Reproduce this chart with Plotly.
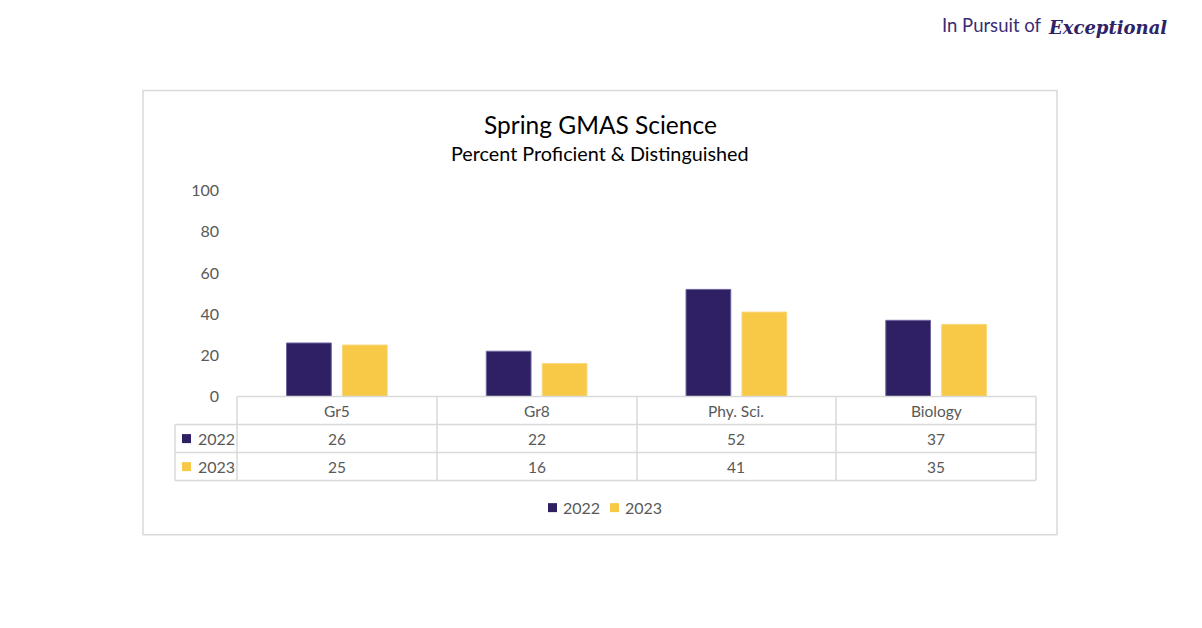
import plotly.graph_objects as go

categories = ["Gr5", "Gr8", "Phy. Sci.", "Biology"]
series_names = ["2022", "2023"]
values_2022 = [26, 22, 52, 37]
values_2023 = [25, 16, 41, 35]
y_ticks = [0, 20, 40, 60, 80, 100]

NAVY = "#2E2063"
GOLD = "#F8C946"
GRID = "#D9D9D9"
TXT = "#595959"
FONT = "Lato, 'Noto Sans', sans-serif"

# figure sized to fit inside the page's default 8px body margin
OFF = 8
W, H = 1202 - 2 * OFF, 628 - 2 * OFF
# observed vertical placement of the rendered figure in the photo
V_OFF, V_SCALE = 17.6, 0.9685
def px(x):
    return (x - OFF) / W
def py(y):
    return 1 - ((y - V_OFF) / V_SCALE) / H

fig = go.Figure()
fig.add_trace(go.Bar(x=categories, y=values_2022, name=series_names[0], showlegend=False,
                     marker=dict(color=NAVY, line=dict(color="#6E64A0", width=1))))
fig.add_trace(go.Bar(x=categories, y=values_2023, name=series_names[1], showlegend=False,
                     marker=dict(color=GOLD, line=dict(color="#F9D77A", width=1))))

shapes = []
# chart border
shapes.append(dict(type="rect", xref="paper", yref="paper", x0=px(143), x1=px(1057), y0=py(90), y1=py(534),
                   line=dict(color=GRID, width=1.5)))
# table lines
for yy in [396, 424, 452, 480]:
    x0 = 237 if yy == 396 else 175
    shapes.append(dict(type="line", xref="paper", yref="paper", x0=px(x0), x1=px(1036), y0=py(yy), y1=py(yy),
                       line=dict(color=GRID, width=1.5)))
for xx in [237, 437, 637, 836, 1036]:
    shapes.append(dict(type="line", xref="paper", yref="paper", x0=px(xx), x1=px(xx), y0=py(396), y1=py(480),
                       line=dict(color=GRID, width=1.5)))
shapes.append(dict(type="line", xref="paper", yref="paper", x0=px(175), x1=px(175), y0=py(424), y1=py(480),
                   line=dict(color=GRID, width=1.5)))
# legend keys (table + bottom legend)
for xc, yc, col in [(186.5, 438, NAVY), (186.5, 466, GOLD), (552.5, 507, NAVY), (614.5, 507, GOLD)]:
    shapes.append(dict(type="rect", xref="paper", yref="paper", x0=px(xc - 4.5), x1=px(xc + 4.5),
                       y0=py(yc - 4.5), y1=py(yc + 4.5), line=dict(width=0), fillcolor=col))

ann = []
ann.append(dict(text="Spring GMAS Science", xref="paper", yref="paper", x=px(600), y=py(124),
                showarrow=False, font=dict(family=FONT, size=24.5, color="#000000"), xanchor="center", yanchor="middle"))
ann.append(dict(text="Percent Proficient &amp; Distinguished", xref="paper", yref="paper", x=px(600), y=py(153),
                showarrow=False, font=dict(family=FONT, size=19.8, color="#000000"), xanchor="center", yanchor="middle"))
# logo
ann.append(dict(text="In Pursuit of", xref="paper", yref="paper", x=px(1044), y=py(25),
                showarrow=False, font=dict(family="Lato", size=18.5, color="#3B2C74"), xanchor="right", yanchor="middle"))
ann.append(dict(text="<b><i>Exceptional</i></b>", xref="paper", yref="paper", x=px(1046), y=py(27),
                showarrow=False, font=dict(family="DejaVu Serif", size=18, color="#2E2366"), xanchor="left", yanchor="middle"))
# table text
for i, c in enumerate(categories):
    for val, yc in [(c, 410), (str(values_2022[i]), 438), (str(values_2023[i]), 466)]:
        ann.append(dict(text=val, xref="x", yref="paper", x=c, y=py(yc), showarrow=False,
                        font=dict(family=FONT, size=15.5, color=TXT), xanchor="center", yanchor="middle"))
for name, xl, yc in [(series_names[0], 196, 438), (series_names[1], 196, 466),
                     (series_names[0], 561, 507), (series_names[1], 623, 507)]:
    ann.append(dict(text=name, xref="paper", yref="paper", x=px(xl), y=py(yc), showarrow=False,
                    font=dict(family=FONT, size=16, color=TXT), xanchor="left", yanchor="middle"))

fig.update_layout(
    width=W, height=H,
    margin=dict(l=0, r=0, t=0, b=0),
    paper_bgcolor="white", plot_bgcolor="white",
    barmode="group", bargap=0.44, bargroupgap=0.2,
    font=dict(family=FONT, color=TXT, size=15),
    xaxis=dict(domain=[px(237), px(1036)], showticklabels=False, showline=False, showgrid=False,
               zeroline=False, ticks=""),
    yaxis=dict(domain=[py(396), py(190)], range=[0, 100], tickvals=y_ticks, showgrid=False,
               showline=False, zeroline=False, ticks="", ticklabelstandoff=17,
               tickfont=dict(family=FONT, size=16, color=TXT)),
    showlegend=False,
    shapes=shapes, annotations=ann,
)

fig.write_html("out.html")
